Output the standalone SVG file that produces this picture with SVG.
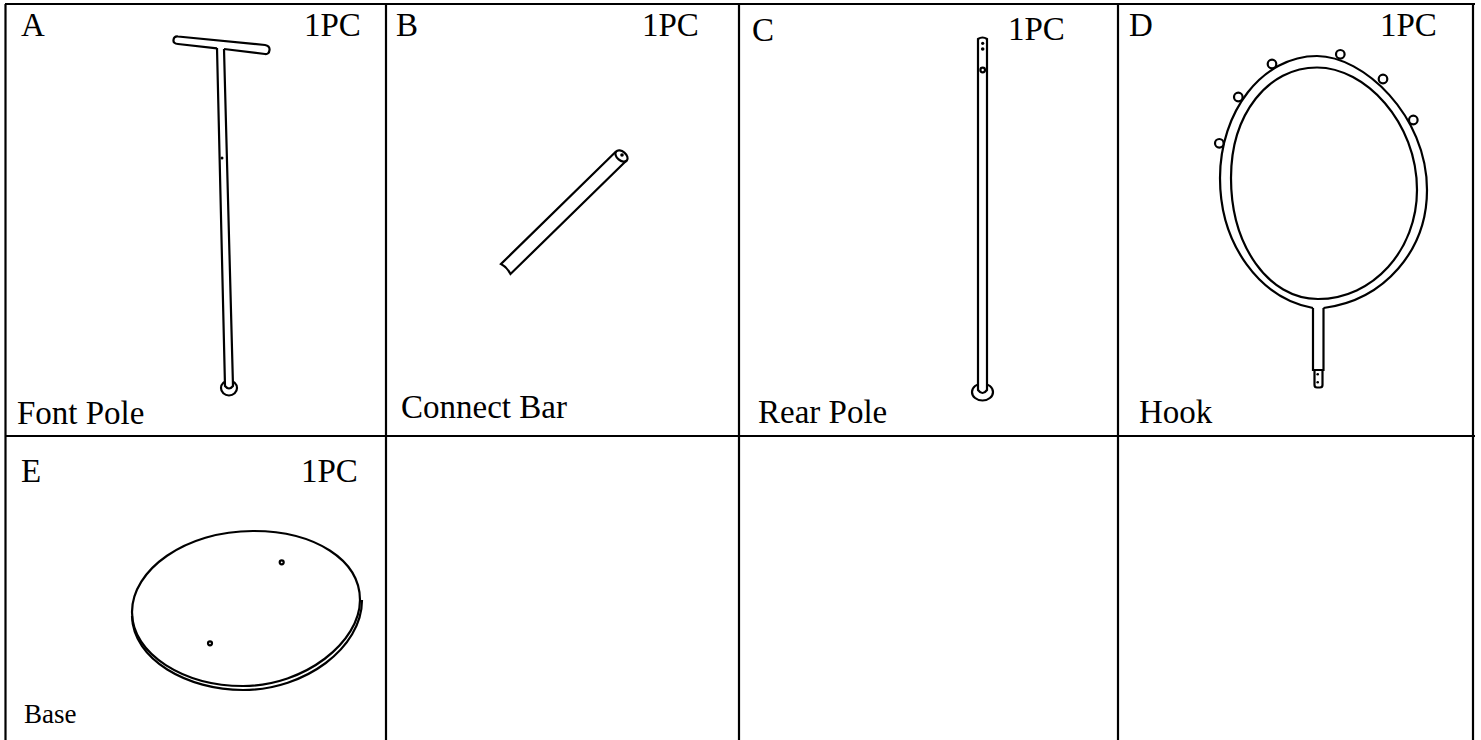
<svg xmlns="http://www.w3.org/2000/svg" width="1481" height="740" viewBox="0 0 1481 740">
<style>
text{font-family:"Liberation Serif","Times New Roman",serif;font-size:33px;fill:#000}
.s{font-size:27px}
.g{fill:none;stroke:#000;stroke-width:2.200}
.d{fill:#fff;stroke:#000;stroke-width:2.200}
.f{fill:#fff;stroke:#000;stroke-width:2.200}
.t{stroke:#000;stroke-width:2.200;fill:none}
</style>
<rect width="1481" height="740" fill="#fff"/>
<g id="table">
<path class="t" d="M5 4H1475M5 436H1475M5.500 4V740M386 4V740M739 4V740M1118 4V740M1473 4V740"/>
</g>
<g id="cell-a">
<text x="21" y="36">A</text><text x="304" y="36">1PC</text><text x="17" y="424">Font Pole</text>
<ellipse class="g" cx="229" cy="388" rx="8" ry="7.500" stroke-width="2.500"/>
<path class="f" d="M217 48L225 386Q229 391 233 386L224 49"/>
<path class="g" d="M178 36.500L265 45Q270 46 269.500 50Q269 54.500 265 54L224 49M217 48.300L178 44Q173 43.500 173.500 40Q174 36 178 36.500"/>
<circle cx="222" cy="158" r="1.500" fill="#000"/>
</g>
<g id="cell-b">
<text x="396" y="36">B</text><text x="642" y="36">1PC</text><text x="401" y="418">Connect Bar</text>
<path class="g" d="M616 151.500L501 264Q507 267 510.500 274L626.500 160.500"/>
<ellipse class="g" cx="621.500" cy="156" rx="7" ry="4.500" transform="rotate(40 621.500 156)"/>
<circle cx="622" cy="155" r="1.800" fill="#000"/>
</g>
<g id="cell-c">
<text x="752" y="41">C</text><text x="1008" y="40">1PC</text><text x="758" y="423">Rear Pole</text>
<ellipse class="g" cx="982.500" cy="392" rx="10.500" ry="8.500" stroke-width="2.500"/>
<path class="f" d="M978 39Q982.500 36 987 39L987 390Q982.500 396 978 390Z"/>
<circle cx="982.700" cy="43.300" r="1.600" fill="#000"/><circle cx="982.700" cy="49" r="1.800" fill="#000"/><circle cx="982.700" cy="70" r="2.300" class="g"/>
</g>
<g id="cell-d">
<text x="1129" y="36">D</text><text x="1380" y="36">1PC</text><text x="1139" y="423">Hook</text>
<path class="g" d="M1313 308C1260 298 1220 245 1220 178C1220 112 1262 56 1317 56C1363 56 1427 115 1427 190C1427 250 1385 300 1323.500 308"/>
<path class="g" d="M1318 299C1268 299 1231 245 1231 178C1231 114 1268 67.500 1317 67.500C1365 67.500 1417 122 1417 190C1417 250 1373 299 1318 299Z"/>
<path class="g" d="M1313 308V370H1323.500V308M1314.500 370V385Q1314.500 387.500 1317 387.500H1320Q1322.500 387.500 1322.500 385V370"/>
<circle cx="1317.700" cy="374.300" r="1.300" fill="#000"/><circle cx="1317.700" cy="382.300" r="1.300" fill="#000"/>
<circle class="d" cx="1219.300" cy="143.300" r="4.300"/><circle class="d" cx="1238.300" cy="97" r="4.300"/><circle class="d" cx="1272" cy="64" r="4.300"/><circle class="d" cx="1340.300" cy="54.300" r="4.300"/><circle class="d" cx="1383" cy="79" r="4.300"/><circle class="d" cx="1413.300" cy="120" r="4.300"/>
</g>
<g id="cell-e">
<text x="21" y="482">E</text><text x="301" y="482">1PC</text><text class="s" x="24" y="723">Base</text>
<path class="g" d="M132 616C133 660 188 690 243 690C305 690 362 648 362 600"/>
<path class="g" d="M132 612C132 570 185 531 253 531C315 531 360 560 360 600C360 642 305 686 243 686C185 686 132 655 132 612Z"/>
<circle class="g" cx="281.700" cy="562.300" r="2"/><circle class="g" cx="210" cy="643.300" r="2"/>
</g>
</svg>
